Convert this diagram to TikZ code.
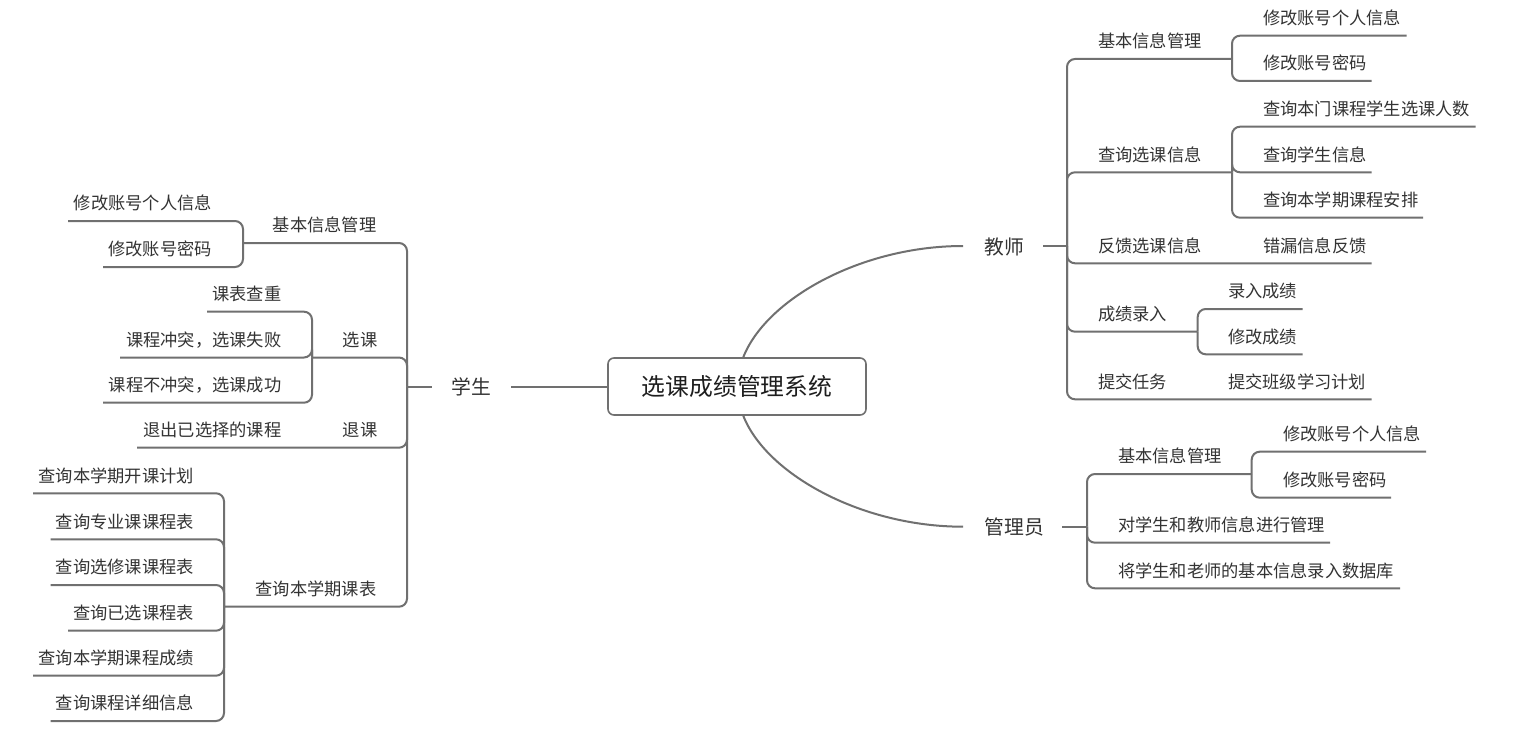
\documentclass[tikz,border=0pt]{standalone}
\usepackage{fontspec}
\newfontfamily\cjk{Noto Sans CJK SC}
\definecolor{ln}{HTML}{707070}
\definecolor{txt}{HTML}{333333}
\definecolor{ttl}{HTML}{1E1E1E}
\begin{document}
\begin{tikzpicture}[x=1pt,y=-1pt,
  lbl/.style={font=\cjk\fontsize{17.25}{20}\selectfont, text=txt, inner sep=0pt, yshift=1.2pt},
  lvone/.style={font=\cjk\fontsize{19.8}{24}\selectfont, text=txt, inner sep=0pt},
  conn/.style={draw=ln, line width=2pt, rounded corners=8pt},
  stub/.style={draw=ln, line width=2pt},
  curveln/.style={draw=ln, line width=2pt}]
\useasboundingbox (0,0) rectangle (1516,733);
\fill[white] (0,0) rectangle (1516,733);

% root
\node[draw=ln, line width=1.6pt, rounded corners=6pt, minimum width=258pt, minimum height=57pt,
      inner sep=0pt, font=\cjk\fontsize{23.8}{28}\selectfont, text=ttl] (root) at (737,386.5) {选课成绩管理系统};

% level one
\node[lvone, anchor=base west] (stu) at (451,394) {学生};
\node[lvone, anchor=base west] (tea) at (984.5,254) {教师};
\node[lvone, anchor=base west] (adm) at (984.5,534.5) {管理员};

\draw[stub] ([xshift=20pt]stu.east |- root.west) -- (root.west);
\coordinate (rt) at (743,358);
\coordinate (rb) at (743,415);
\coordinate (teaL) at (963,246);
\coordinate (admL) at (963,526.7);
\draw[curveln] (rt) .. controls (765,300) and (860,246) .. (teaL);
\draw[curveln] (rb) .. controls (765,473) and (860,526.7) .. (admL);

% ================= student (left) =================
\coordinate (sJ) at (407,386.5);
\draw[stub] (431.7,386.5) -- (sJ);

\node[lbl, anchor=base east] (s1) at (376.5,233) {基本信息管理};
\node[lbl, anchor=base east] (s2) at (377.5,347.5) {选课};
\node[lbl, anchor=base east] (s3) at (377.5,437.7) {退课};
\node[lbl, anchor=base east] (s4) at (376.5,596.7) {查询本学期课表};

\draw[conn] (sJ) |- (243,243);
\draw[conn] (sJ) |- (312,357.5);
\draw[conn] (sJ) |- (137,447.7);
\draw[conn] (sJ) |- (224,606.7);

% s1 children
\coordinate (s1J) at (243,243);
\node[lbl, anchor=base east] (s11) at (212,211) {修改账号个人信息};
\node[lbl, anchor=base east] (s12) at (212,257) {修改账号密码};
\draw[conn] (s1J) |- (68,221);
\draw[conn] (s1J) |- (103,267);

% s2 children
\coordinate (s2J) at (312,357.5);
\node[lbl, anchor=base east] (s21) at (281.5,301.7) {课表查重};
\node[lbl, anchor=base east] (s22) at (281.5,347.5) {课程冲突，选课失败};
\node[lbl, anchor=base east] (s23) at (281.5,392.7) {课程不冲突，选课成功};
\draw[conn] (s2J) |- (207,311.7);
\draw[conn] (s2J) |- (120,357.5);
\draw[conn] (s2J) |- (103,402.7);

% s3 child
\node[lbl, anchor=base east] (s31) at (281.5,437.7) {退出已选择的课程};

% s4 children
\coordinate (s4J) at (224,606.7);
\node[lbl, anchor=base east] (s41) at (194,483.3) {查询本学期开课计划};
\node[lbl, anchor=base east] (s42) at (194,529.3) {查询专业课课程表};
\node[lbl, anchor=base east] (s43) at (194,575) {查询选修课课程表};
\node[lbl, anchor=base east] (s44) at (194,620.7) {查询已选课程表};
\node[lbl, anchor=base east] (s45) at (194,665.7) {查询本学期课程成绩};
\node[lbl, anchor=base east] (s46) at (194,711) {查询课程详细信息};
\draw[conn] (s4J) |- (33,493.3);
\draw[conn] (s4J) |- (50.7,539.3);
\draw[conn] (s4J) |- (50.7,585);
\draw[conn] (s4J) |- (68,630.7);
\draw[conn] (s4J) |- (33,675.7);
\draw[conn] (s4J) |- (50.7,721);

% ================= teacher (right) =================
\coordinate (tJ) at (1067,246);
\draw[stub] (1043.3,246) -- (tJ);

\node[lbl, anchor=base west] (t1) at (1098,49) {基本信息管理};
\node[lbl, anchor=base west] (t2) at (1098,162.3) {查询选课信息};
\node[lbl, anchor=base west] (t3) at (1098,253.3) {反馈选课信息};
\node[lbl, anchor=base west] (t4) at (1098,321.7) {成绩录入};
\node[lbl, anchor=base west] (t5) at (1098,389.3) {提交任务};

\draw[conn] (tJ) |- (1232,59);
\draw[conn] (tJ) |- (1232,172.3);
\draw[conn] (tJ) |- (1371.7,263.3);
\draw[conn] (tJ) |- (1197.7,331.7);
\draw[conn] (tJ) |- (1371.7,399.3);

\coordinate (t1J) at (1232,59);
\node[lbl, anchor=base west] (t11) at (1263,25.7) {修改账号个人信息};
\node[lbl, anchor=base west] (t12) at (1263,71) {修改账号密码};
\draw[conn] (t1J) |- (1406.7,35.7);
\draw[conn] (t1J) |- (1371.7,81);

\coordinate (t2J) at (1232,172.3);
\node[lbl, anchor=base west] (t21) at (1263,116.7) {查询本门课程学生选课人数};
\node[lbl, anchor=base west] (t22) at (1263,162.3) {查询学生信息};
\node[lbl, anchor=base west] (t23) at (1263,207.7) {查询本学期课程安排};
\draw[conn] (t2J) |- (1475.7,126.7);
\draw[conn] (t2J) |- (1371.7,172.3);
\draw[conn] (t2J) |- (1423,217.7);

\node[lbl, anchor=base west] (t31) at (1263,253.3) {错漏信息反馈};

\coordinate (t4J) at (1197.7,331.7);
\node[lbl, anchor=base west] (t41) at (1228,299) {录入成绩};
\node[lbl, anchor=base west] (t42) at (1228,344.3) {修改成绩};
\draw[conn] (t4J) |- (1302.7,309);
\draw[conn] (t4J) |- (1302.7,354.3);

\node[lbl, anchor=base west] (t51) at (1228,389.3) {提交班级学习计划};

% ================= admin (right) =================
\coordinate (aJ) at (1087,526.7);
\draw[stub] (1062,526.7) -- (aJ);

\node[lbl, anchor=base west] (a1) at (1118,464) {基本信息管理};
\node[lbl, anchor=base west] (a2) at (1118,532.7) {对学生和教师信息进行管理};
\node[lbl, anchor=base west] (a3) at (1118,578.3) {将学生和老师的基本信息录入数据库};
\draw[conn] (aJ) |- (1251.7,474);
\draw[conn] (aJ) |- (1330,542.7);
\draw[conn] (aJ) |- (1400,588.3);

\coordinate (a1J) at (1251.7,474);
\node[lbl, anchor=base west] (a11) at (1283,441.7) {修改账号个人信息};
\node[lbl, anchor=base west] (a12) at (1283,487.7) {修改账号密码};
\draw[conn] (a1J) |- (1426,451.7);
\draw[conn] (a1J) |- (1391,497.7);
\end{tikzpicture}
\end{document}
